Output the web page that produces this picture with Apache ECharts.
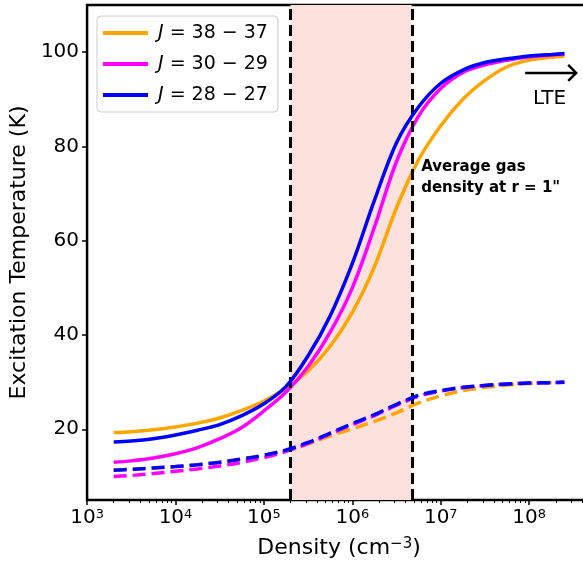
<!DOCTYPE html>
<html>
<head>
<meta charset="utf-8">
<script src="https://cdn.jsdelivr.net/npm/echarts@6/dist/echarts.min.js"></script>
<style>
html,body{margin:0;padding:0;background:#fff;overflow:hidden;}
#chart{width:591px;height:564px;}
</style>
</head>
<body>
<div id="chart"></div>
<script>
// ---- data ----
const density = [2e3, 3.16e3, 5.62e3, 1e4, 1.78e4, 3.16e4, 5.62e4, 1e5, 1.78e5, 3.16e5, 5.62e5, 1e6, 1.78e6, 3.16e6, 5.62e6, 1e7, 1.78e7, 3.16e7, 5.62e7, 1e8, 1.78e8, 2.5e8];
const orangeSolid  = [19.3,19.5,19.9,20.5,21.3,22.4,24.0,26.0,28.7,32.4,37.6,44.8,54.5,67.0,77.2,84.4,90.0,94.0,96.9,98.3,98.9,99.2];
const magentaSolid = [13.0,13.3,13.9,14.8,16.1,18.0,20.4,23.9,27.9,33.3,40.6,50.0,62.9,76.8,86.5,92.3,95.7,97.3,98.3,99.0,99.4,99.6];
const blueSolid    = [17.3,17.5,18.0,18.8,19.8,21.0,22.9,25.4,29.1,35.6,44.1,55.2,68.6,80.8,88.4,93.4,96.2,97.8,98.6,99.2,99.5,99.7];
const orangeDash   = [11.4,11.5,11.8,12.1,12.5,13.0,13.7,14.5,15.5,16.9,18.6,20.1,21.7,23.5,25.6,27.1,28.2,28.9,29.4,29.7,29.9,30.0];
const magentaDash  = [10.0,10.2,10.6,11.1,11.6,12.2,13.0,14.0,15.3,17.0,19.0,21.0,22.9,25.1,27.0,28.1,28.8,29.3,29.6,29.8,29.9,30.0];
const blueDash     = [11.3,11.5,11.8,12.1,12.5,13.0,13.7,14.5,15.6,17.2,19.2,21.2,23.1,25.3,27.2,28.2,28.9,29.3,29.6,29.8,29.9,30.0];
const seriesNames  = ['J = 38 − 37', 'J = 30 − 29', 'J = 28 − 27'];
const seriesColors = ['#FFA500', '#FF00FF', '#0000FF'];
const regionBounds = [2e5, 4.7e6];           // shaded density range
const xMajorTicks  = [1e3, 1e4, 1e5, 1e6, 1e7, 1e8];
const yTicks       = [20, 40, 60, 80, 100];
const xRange = [1e3, 5e8];
const yRange = [5, 110];

const xMinorTicks = [];
for (let e = 3; e <= 8; e++) for (let m = 2; m <= 9; m++) {
  const v = m * Math.pow(10, e);
  if (v < xRange[1]) xMinorTicks.push(v);
}

const FONT = 'DejaVu Sans';
const pairs = arr => density.map((d, i) => [d, arr[i]]);

const solidSets = [orangeSolid, magentaSolid, blueSolid];
const dashSets = [orangeDash, magentaDash, blueDash];

const series = [];
// shaded region
series.push({
  type: 'line', name: '_area', data: [], z: 1, silent: true,
  markArea: { silent: true, itemStyle: { color: '#fde1dd' },
    data: [[{ xAxis: regionBounds[0] }, { xAxis: regionBounds[1] }]] }
});
solidSets.forEach((arr, i) => {
  series.push({
    type: 'line', name: seriesNames[i], data: pairs(arr), showSymbol: false, symbol: 'none',
    smooth: 0.35, z: 3 + i,
    lineStyle: { color: seriesColors[i], width: 3.5 }, itemStyle: { color: seriesColors[i] }
  });
});
dashSets.forEach((arr, i) => {
  series.push({
    type: 'line', name: seriesNames[i] + ' (dashed)', data: pairs(arr), showSymbol: false, symbol: 'none',
    smooth: 0.35, z: 3 + i,
    lineStyle: { color: seriesColors[i], width: 3.5, type: [13, 6] }, itemStyle: { color: seriesColors[i] }
  });
});
// vertical dashed lines
series.push({
  type: 'line', name: '_lines', data: [], z: 10, silent: true,
  markLine: { silent: true, symbol: 'none', label: { show: false },
    lineStyle: { color: '#000', width: 3, type: [11, 5] },
    data: regionBounds.map(v => ({ xAxis: v })) }
});

const chart = echarts.init(document.getElementById('chart'), null, { renderer: 'canvas' });
chart.setOption({
  animation: false,
  backgroundColor: '#fff',
  textStyle: { fontFamily: FONT },
  grid: { left: 86, right: 0, top: 5, bottom: 62, show: true, borderColor: '#000', borderWidth: 2.5, backgroundColor: 'transparent' },
  legend: {
    data: seriesNames, orient: 'vertical', left: 97, top: 16,
    icon: 'rect', itemWidth: 45, itemHeight: 4, itemGap: 9,
    padding: [6, 10, 6, 6],
    backgroundColor: '#fff', borderColor: '#ccc', borderWidth: 1, borderRadius: 4,
    formatter: n => '{i|J}' + n.slice(1),
    textStyle: { fontFamily: FONT, fontSize: 19, color: '#000', lineHeight: 22, padding: [0, 0, 0, 5],
      rich: { i: { fontFamily: FONT, fontSize: 19, fontStyle: 'italic', color: '#000' } } }
  },
  xAxis: [{
    type: 'log', logBase: 10, min: xRange[0], max: xRange[1],
    axisLine: { show: false },
    axisTick: { show: true, inside: false, length: 5, customValues: xMajorTicks, lineStyle: { color: '#000', width: 1.5 } },
    axisLabel: { customValues: xMajorTicks, margin: 8, color: '#000',
      formatter: v => '{b|10}{s|' + Math.round(Math.log10(v)) + '}',
      rich: { b: { fontFamily: FONT, fontSize: 20, color: '#000' },
              s: { fontFamily: FONT, fontSize: 13, color: '#000', verticalAlign: 'top' } } },
    splitLine: { show: false }, minorTick: { show: false },
    name: 'Density (cm{s|−3})', nameLocation: 'middle', nameGap: 37,
    nameTextStyle: { fontFamily: FONT, fontSize: 22, color: '#000',
      rich: { s: { fontFamily: FONT, fontSize: 15, color: '#000', verticalAlign: 'top' } } }
  }, {
    type: 'log', logBase: 10, min: xRange[0], max: xRange[1], position: 'bottom',
    axisLine: { show: false },
    axisTick: { show: true, length: 3, customValues: xMinorTicks, lineStyle: { color: '#000', width: 1 } },
    axisLabel: { show: false }, splitLine: { show: false }
  }],
  yAxis: {
    type: 'value', min: yRange[0], max: yRange[1],
    axisLine: { show: false },
    axisTick: { show: true, length: 5, customValues: yTicks, lineStyle: { color: '#000', width: 1.5 } },
    axisLabel: { customValues: yTicks, margin: 8, color: '#000', fontFamily: FONT, fontSize: 20 },
    splitLine: { show: false },
    name: 'Excitation Temperature (K)', nameLocation: 'middle', nameGap: 52,
    nameTextStyle: { fontFamily: FONT, fontSize: 22, color: '#000' }
  },
  series: series
});

// annotations placed in data coordinates
const px = (x, y) => chart.convertToPixel({ xAxisIndex: 0, yAxisIndex: 0 }, [x, y]);
const a0 = px(9e7, 95.6), a1 = px(3.4e8, 95.6);
const lte = px(1.7e8, 95.6);
const ann = px(6e6, 77.8);
chart.setOption({
  graphic: [
    { type: 'line', z: 20, shape: { x1: a0[0], y1: a0[1], x2: a1[0], y2: a1[1] }, style: { stroke: '#000', lineWidth: 2.5 } },
    { type: 'polyline', z: 20, shape: { points: [[a1[0] - 8, a1[1] - 8], [a1[0], a1[1]], [a1[0] - 8, a1[1] + 8]] },
      style: { stroke: '#000', fill: null, lineWidth: 2.5 } },
    { type: 'text', z: 20, x: lte[0], y: lte[1] + 16,
      style: { text: 'LTE', fontFamily: FONT, fontSize: 20, fill: '#000', align: 'center', verticalAlign: 'top' } },
    { type: 'text', z: 20, x: ann[0], y: ann[1],
      style: { text: 'Average gas\ndensity at r = 1"', fontFamily: FONT, fontSize: 15, fontWeight: 'bold',
        lineHeight: 21, fill: '#000', align: 'left', verticalAlign: 'top' } }
  ]
});
</script>
</body>
</html>
